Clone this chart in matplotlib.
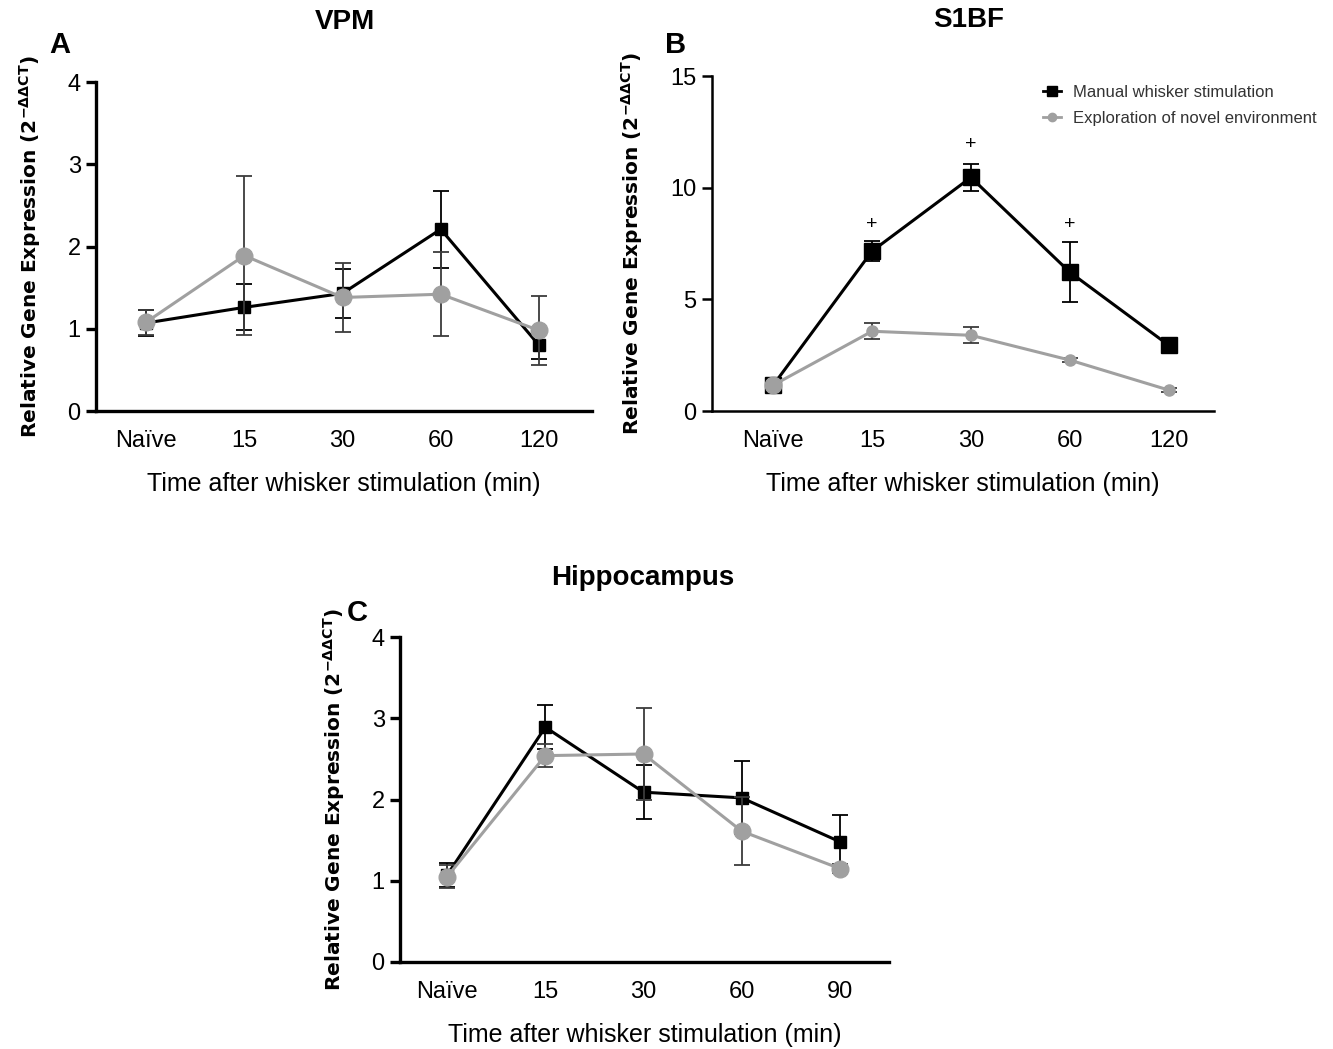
import matplotlib
matplotlib.use('Agg')
import matplotlib.pyplot as plt
from matplotlib.lines import Line2D
import numpy as np

plt.rcParams['font.family'] = ['Liberation Sans', 'DejaVu Sans']
plt.rcParams['mathtext.fontset'] = 'dejavusans'

# data
labels_ab = ['Naïve', '15', '30', '60', '120']
labels_c = ['Naïve', '15', '30', '60', '90']

vpm_manual = [1.07, 1.26, 1.43, 2.21, 0.80]
vpm_manual_err = [0.16, 0.28, 0.30, 0.47, 0.17]
vpm_explore = [1.08, 1.89, 1.38, 1.42, 0.98]
vpm_explore_err = [0.15, 0.97, 0.42, 0.51, 0.42]

s1bf_manual = [1.16, 7.16, 10.46, 6.22, 2.95]
s1bf_manual_err = [0.15, 0.45, 0.60, 1.33, 0.20]
s1bf_explore = [1.16, 3.57, 3.39, 2.28, 0.94]
s1bf_explore_err = [0.10, 0.35, 0.35, 0.10, 0.08]
s1bf_sig_x = [1, 2, 3]
s1bf_sig_y = [8.35, 11.95, 8.35]

hip_manual = [1.07, 2.89, 2.09, 2.02, 1.48]
hip_manual_err = [0.15, 0.27, 0.33, 0.45, 0.33]
hip_explore = [1.05, 2.54, 2.56, 1.61, 1.15]
hip_explore_err = [0.14, 0.14, 0.57, 0.42, 0.06]

W, H = 1333, 1049
fig = plt.figure(figsize=(W/100, H/100), dpi=100)

def px_axes(left, top, right, bottom):
    return fig.add_axes([left/W, 1-bottom/H, (right-left)/W, (bottom-top)/H])

GRAY = '#a0a0a0'
YLAB = r'Relative Gene Expression (2$^{\mathbf{-\Delta\Delta CT}}$)'

def panel(ax, labels, manual, manual_err, explore, explore_err, ymax, yticks,
          xlim, spine_w, msq, mci, mci_small=None):
    x = np.arange(len(labels))
    ax.errorbar(x, manual, yerr=manual_err, color='black', lw=2.2, marker='s',
                ms=msq, ecolor='black', elinewidth=1.3, capsize=6, capthick=1.3,
                zorder=3)
    ms = mci if mci_small is None else mci_small
    ax.errorbar(x, explore, yerr=explore_err, color=GRAY, lw=2.2, marker='o',
                ms=ms, ecolor='#3c3c3c', elinewidth=1.3, capsize=6, capthick=1.3,
                zorder=4)
    if mci_small is not None:
        ax.plot(x[:1], explore[:1], 'o', color=GRAY, ms=mci, zorder=5)
    ax.set_xlim(*xlim)
    ax.set_ylim(0, ymax)
    ax.set_yticks(yticks)
    ax.set_xticks(x)
    ax.set_xticklabels(labels)
    for s in ['top', 'right']:
        ax.spines[s].set_visible(False)
    for s in ['left', 'bottom']:
        ax.spines[s].set_linewidth(spine_w)
    ax.tick_params(axis='y', length=7, width=spine_w, labelsize=17, pad=4)
    ax.tick_params(axis='x', length=0, labelsize=17, pad=14)
    ax.set_xlabel('Time after whisker stimulation (min)', fontsize=18, labelpad=14)
    ax.set_ylabel(YLAB, fontsize=14.5, fontweight='bold', family='DejaVu Sans',
                  labelpad=18)

axA = px_axes(96, 82, 592, 411)
panel(axA, labels_ab, vpm_manual, vpm_manual_err, vpm_explore, vpm_explore_err,
      4, [0, 1, 2, 3, 4], (-0.51, 4.54), 2.4, 9, 12)

axB = px_axes(712, 76, 1214, 411)
panel(axB, labels_ab, s1bf_manual, s1bf_manual_err, s1bf_explore, s1bf_explore_err,
      15, [0, 5, 10, 15], (-0.62, 4.46), 1.8, 12, 12, mci_small=8)
for sx, sy in zip(s1bf_sig_x, s1bf_sig_y):
    axB.text(sx, sy, '+', ha='center', va='center', fontsize=14)
handles = [Line2D([], [], color='black', lw=2, marker='s', ms=7),
           Line2D([], [], color=GRAY, lw=2, marker='o', ms=6)]
axB.legend(handles, ['Manual whisker stimulation', 'Exploration of novel environment'],
           loc='upper left', bbox_to_anchor=(1028/W, 1-70/H),
           bbox_transform=fig.transFigure, frameon=False, fontsize=12,
           handlelength=1.1, handletextpad=0.7, labelspacing=0.65,
           labelcolor='#333333')

axC = px_axes(400, 637, 889, 962)
panel(axC, labels_c, hip_manual, hip_manual_err, hip_explore, hip_explore_err,
      4, [0, 1, 2, 3, 4], (-0.48, 4.5), 2.4, 9, 12)

fig.text(345/W, 1-22/H, 'VPM', ha='center', va='center', fontsize=20, fontweight='bold')
fig.text(969/W, 1-20/H, 'S1BF', ha='center', va='center', fontsize=20, fontweight='bold')
fig.text(643/W, 1-578/H, 'Hippocampus', ha='center', va='center', fontsize=20, fontweight='bold')
fig.text(60/W, 1-45/H, 'A', ha='center', va='center', fontsize=21, fontweight='bold')
fig.text(676/W, 1-45/H, 'B', ha='center', va='center', fontsize=21, fontweight='bold')
fig.text(357/W, 1-613/H, 'C', ha='center', va='center', fontsize=21, fontweight='bold')

fig.savefig('out.png', dpi=100)
